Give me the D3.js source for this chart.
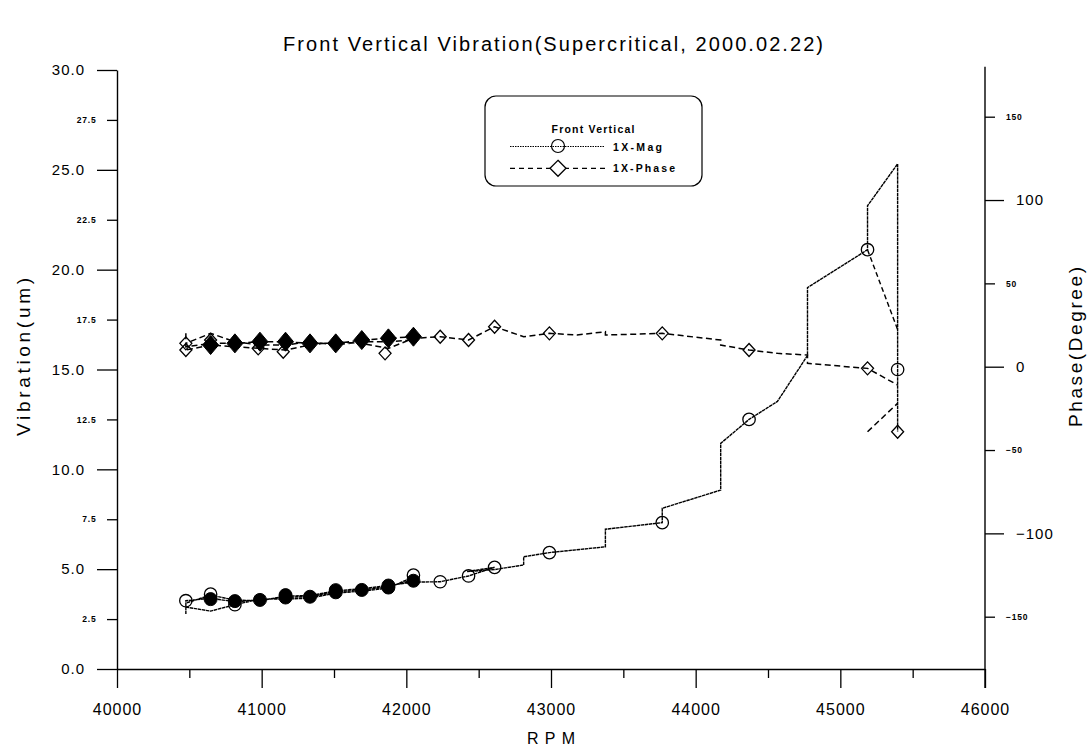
<!DOCTYPE html>
<html>
<head>
<meta charset="utf-8">
<script src="https://cdn.jsdelivr.net/npm/d3@7"></script>
<style>
  body { margin: 0; background: #fff; }
  svg { display: block; font-family: "Liberation Sans", Arial, sans-serif; }
</style>
</head>
<body>
<svg id="chart" width="1091" height="749"></svg>
<script>
// axis ticks
const xTicksMajor = [40000, 41000, 42000, 43000, 44000, 45000, 46000];
const xTicksMinor = [40500, 41500, 42500, 43500, 44500, 45500];
const leftMajor = [0, 5, 10, 15, 20, 25, 30];
const leftMinor = [2.5, 7.5, 12.5, 17.5, 22.5, 27.5];
const rightMajor = [-100, 0, 100];
const rightMinor = [-150, -50, 50, 150];

// 1X-Mag trace (um), several passes over the low speed steps
const magRpm = [
  40476, 40476, 40647, 40815, 40988, 41165, 41334, 41512, 41692, 41876, 42049,
  42049, 41876, 41692, 41512, 41334, 41165, 40988, 40815, 40647, 40476,
  40476, 40647, 40815, 40988, 41165, 41334, 41512, 41692, 41876, 42049,
  42234, 42430, 42610, 42420, 42610, 42811, 42811, 42989, 43376, 43376, 43769, 43769,
  44173, 44173, 44369, 44565, 44773, 44773, 45188, 45188, 45396, 45396
];
const magVal = [
  2.75, 3.42, 3.54, 3.37, 3.46, 3.59, 3.62, 3.87, 3.96, 4.12, 4.46,
  4.62, 4.05, 3.90, 3.80, 3.55, 3.50, 3.50, 3.22, 2.90, 3.10,
  3.30, 3.70, 3.45, 3.42, 3.65, 3.68, 3.92, 4.02, 4.18, 4.35,
  4.37, 4.66, 5.09, 4.88, 4.98, 5.21, 5.62, 5.83, 6.12, 7.00, 7.33, 8.05,
  8.96, 11.3, 12.5, 13.4, 15.7, 19.1, 21.0, 23.2, 25.3, 11.9
];
const magBackRpm = [45188, 45396];
const magBackVal = [21.0, 17.0];
// circle markers
const magRingRpm = [40476, 40647, 40815, 42049, 42234, 42430, 42610, 42989, 43769, 44369, 45188, 45396];
const magRingVal = [3.42, 3.75, 3.22, 4.70, 4.37, 4.66, 5.09, 5.83, 7.33, 12.5, 21.0, 15.0];
const magDotRpm = [40647, 40815, 40988, 41165, 41165, 41334, 41512, 41512, 41692, 41876, 41876, 42049];
const magDotVal = [3.50, 3.40, 3.46, 3.58, 3.70, 3.62, 3.84, 3.95, 3.96, 4.08, 4.18, 4.42];

// 1X-Phase trace (degree)
const phaseRpm = [
  40476, 40476, 40647, 40815, 40988, 41165, 41334, 41512, 41692, 41876, 42049,
  42049, 41876, 41692, 41512, 41334, 41165, 40988, 40815, 40647, 40476,
  40476, 40647, 40815, 40988, 41165, 41334, 41512, 41692, 41876, 42049,
  42234, 42430, 42610, 42811, 42989, 43180, 43376, 43376, 43769, 44173, 44173,
  44369, 44565, 44773, 44773, 45188, 45396, null, 45188, 45396
];
const phaseVal = [
  20, 12, 14, 14, 15, 15, 14, 14, 16, 17, 18,
  16, 15, 15, 13, 15, 13, 13, 15, 20, 14,
  10, 13, 12, 11, 10, 13, 15, 14, 11, 17,
  18, 16, 24, 18, 20, 19, 21, 19, 20, 16, 13,
  10, 8, 7, 2, -1, -11, null, -39, -22
];
// diamond markers
const phaseDotRpm = [40647, 40815, 40988, 41165, 41334, 41512, 41692, 41876, 42049];
const phaseDotVal = [13, 14, 15, 15, 14, 14, 16, 17, 18];
const phaseRingRpm = [40476, 40476, 40647, 40976, 41149, 41853, 42234, 42430, 42610, 42989, 43769, 44369, 45188, 45396];
const phaseRingVal = [10, 14, 16, 11, 9, 8, 18, 16, 24, 20, 20, 10, -1, -39];

const svg = d3.select('#chart');

const x = d3.scaleLinear().domain([40000, 46000]).range([117, 985]);
const yL = d3.scaleLinear().domain([0, 30]).range([669, 70]);
const yR = d3.scaleLinear().domain([-180, 180]).range([666.7, 66.7]);

function styleAxis(g, size, bold) {
  g.attr('font-family', '"Liberation Sans", Arial, sans-serif')
    .attr('font-size', size);
  g.selectAll('line').attr('stroke', '#000').attr('stroke-width', 1.3);
  g.selectAll('path').attr('stroke', '#000').attr('stroke-width', 1.4);
  g.selectAll('text').attr('fill', '#000')
    .attr('font-weight', bold ? 'bold' : 'normal')
    .style('letter-spacing', bold ? '0.8px' : '1px');
}

// left axis
const gL = svg.append('g').attr('transform', 'translate(117,0)')
  .call(d3.axisLeft(yL).tickValues(leftMajor).tickSize(20).tickSizeOuter(0)
    .tickPadding(12).tickFormat(d3.format('.1f')));
styleAxis(gL, 15, false);
const gL2 = svg.append('g').attr('transform', 'translate(117,0)')
  .call(d3.axisLeft(yL).tickValues(leftMinor).tickSize(10).tickPadding(10.5)
    .tickFormat(d3.format('.1f')));
gL2.select('.domain').remove();
styleAxis(gL2, 8.5, true);

// bottom axis
const gB = svg.append('g').attr('transform', 'translate(0,669)')
  .call(d3.axisBottom(x).tickValues(xTicksMajor).tickSize(19).tickSizeOuter(0)
    .tickPadding(16).tickFormat(d3.format('d')));
styleAxis(gB, 16, false);
const gB2 = svg.append('g').attr('transform', 'translate(0,669)')
  .call(d3.axisBottom(x).tickValues(xTicksMinor).tickSize(9).tickFormat(''));
gB2.select('.domain').remove();
styleAxis(gB2, 10, false);

// right axis
const gR = svg.append('g').attr('transform', 'translate(985,0)')
  .call(d3.axisRight(yR).tickValues(rightMajor).tickSize(19).tickPadding(12)
    .tickFormat(d3.format('d')));
gR.select('.domain').remove();
styleAxis(gR, 15, false);
const gR2 = svg.append('g').attr('transform', 'translate(985,0)')
  .call(d3.axisRight(yR).tickValues(rightMinor).tickSize(10).tickPadding(11)
    .tickFormat(d3.format('d')));
gR2.select('.domain').remove();
styleAxis(gR2, 8.5, true);
svg.append('line')
  .attr('x1', 985).attr('x2', 985)
  .attr('y1', yR(180)).attr('y2', 688)
  .attr('stroke', '#000').attr('stroke-width', 1.4);

// titles
svg.append('text')
  .attr('x', 553).attr('y', 51)
  .attr('text-anchor', 'middle')
  .attr('font-size', 20)
  .attr('textLength', 540).attr('lengthAdjust', 'spacing')
  .text('Front Vertical Vibration(Supercritical, 2000.02.22)');

svg.append('text')
  .attr('x', 551).attr('y', 744)
  .attr('text-anchor', 'middle')
  .attr('font-size', 16)
  .attr('textLength', 48).attr('lengthAdjust', 'spacing')
  .text('RPM');

svg.append('text')
  .attr('transform', 'translate(30,357) rotate(-90)')
  .attr('text-anchor', 'middle')
  .attr('font-size', 19)
  .attr('textLength', 158).attr('lengthAdjust', 'spacing')
  .text('Vibration(um)');

svg.append('text')
  .attr('transform', 'translate(1082,347) rotate(-90)')
  .attr('text-anchor', 'middle')
  .attr('font-size', 19)
  .attr('textLength', 160).attr('lengthAdjust', 'spacing')
  .text('Phase(Degree)');

// series
const magLine = d3.line()
  .defined(d => d[1] != null)
  .x(d => x(d[0]))
  .y(d => yL(d[1]));
const phaseLine = d3.line()
  .defined(d => d[0] != null && d[1] != null)
  .x(d => x(d[0]))
  .y(d => yR(d[1]));

const plot = svg.append('g').attr('fill', 'none').attr('stroke', '#000');

plot.append('path')
  .attr('d', phaseLine(d3.zip(phaseRpm, phaseVal)))
  .attr('stroke-width', 1.5)
  .attr('stroke-dasharray', '6,3.5');

plot.append('path')
  .attr('d', magLine(d3.zip(magRpm, magVal)))
  .attr('stroke-width', 1.4)
  .attr('stroke-dasharray', '3.5,0.6');

plot.append('path')
  .attr('d', magLine(d3.zip(magBackRpm, magBackVal)))
  .attr('stroke-width', 1.4)
  .attr('stroke-dasharray', '5,3');

function diamond(w, h) {
  return `M0,${-h}L${w},0L0,${h}L${-w},0Z`;
}

// phase markers
plot.selectAll('.pdot')
  .data(d3.zip(phaseDotRpm, phaseDotVal))
  .enter().append('path')
  .attr('class', 'pdot')
  .attr('transform', d => `translate(${x(d[0])},${yR(d[1])})`)
  .attr('d', diamond(8, 9.5))
  .attr('fill', '#000');

plot.selectAll('.pring')
  .data(d3.zip(phaseRingRpm, phaseRingVal))
  .enter().append('path')
  .attr('class', 'pring')
  .attr('transform', d => `translate(${x(d[0])},${yR(d[1])})`)
  .attr('d', diamond(6, 6.5))
  .attr('fill', 'none')
  .attr('stroke-width', 1.3);

// mag markers
plot.selectAll('.mdot')
  .data(d3.zip(magDotRpm, magDotVal))
  .enter().append('circle')
  .attr('class', 'mdot')
  .attr('cx', d => x(d[0]))
  .attr('cy', d => yL(d[1]))
  .attr('r', 6.5)
  .attr('fill', '#000');

plot.selectAll('.mring')
  .data(d3.zip(magRingRpm, magRingVal))
  .enter().append('circle')
  .attr('class', 'mring')
  .attr('cx', d => x(d[0]))
  .attr('cy', d => yL(d[1]))
  .attr('r', 6.2)
  .attr('fill', 'none')
  .attr('stroke-width', 1.3);

// legend
const lg = svg.append('g');
lg.append('rect')
  .attr('x', 485).attr('y', 96)
  .attr('width', 217).attr('height', 90)
  .attr('rx', 11)
  .attr('fill', '#fff').attr('stroke', '#000').attr('stroke-width', 1.2);
lg.append('text')
  .attr('x', 593).attr('y', 133)
  .attr('text-anchor', 'middle')
  .attr('font-size', 10.5).attr('font-weight', 'bold')
  .attr('textLength', 83).attr('lengthAdjust', 'spacing')
  .text('Front Vertical');
lg.append('line')
  .attr('x1', 510).attr('x2', 605).attr('y1', 146.5).attr('y2', 146.5)
  .attr('stroke', '#000').attr('stroke-width', 1.2).attr('stroke-dasharray', '1.5,1');
lg.append('circle')
  .attr('cx', 558).attr('cy', 146).attr('r', 6.5)
  .attr('fill', 'none').attr('stroke', '#000').attr('stroke-width', 1.2);
lg.append('text')
  .attr('x', 613).attr('y', 150.5)
  .attr('font-size', 10.5).attr('font-weight', 'bold')
  .attr('textLength', 49).attr('lengthAdjust', 'spacing')
  .text('1X-Mag');
lg.append('line')
  .attr('x1', 510).attr('x2', 607).attr('y1', 168.3).attr('y2', 168.3)
  .attr('stroke', '#000').attr('stroke-width', 1.3).attr('stroke-dasharray', '5,4');
lg.append('path')
  .attr('transform', 'translate(558,168.3)')
  .attr('d', diamond(8, 8))
  .attr('fill', '#fff').attr('stroke', '#000').attr('stroke-width', 1.3);
lg.append('text')
  .attr('x', 613).attr('y', 172)
  .attr('font-size', 10.5).attr('font-weight', 'bold')
  .attr('textLength', 62).attr('lengthAdjust', 'spacing')
  .text('1X-Phase');
</script>
</body>
</html>
